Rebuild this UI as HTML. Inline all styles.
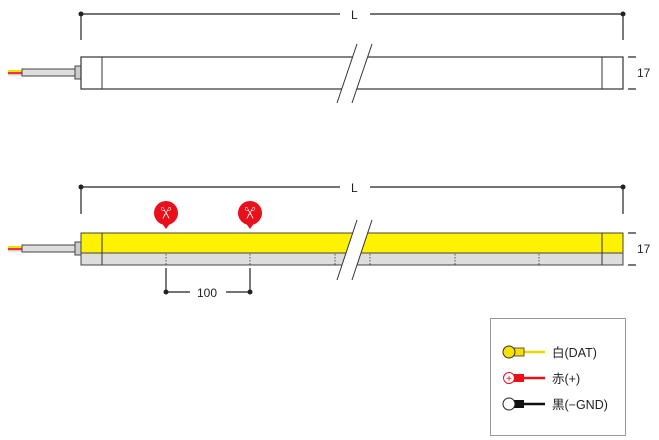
<!DOCTYPE html><html><head><style>body{margin:0;background:#fff}svg{display:block;font-family:"Liberation Sans","Noto Sans CJK JP",sans-serif}</style></head><body>
<svg width="659" height="440" viewBox="0 0 659 440">
<g stroke="#222" stroke-width="1.2" fill="none">
<line x1="81" y1="14" x2="340" y2="14"/><line x1="370" y1="14" x2="623" y2="14"/>
<line x1="81" y1="14" x2="81" y2="40"/><line x1="623" y1="14" x2="623" y2="40"/>
<line x1="81" y1="187" x2="340" y2="187"/><line x1="370" y1="187" x2="623" y2="187"/>
<line x1="81" y1="187" x2="81" y2="214"/><line x1="623" y1="187" x2="623" y2="214"/>
<line x1="628" y1="57" x2="636" y2="57"/><line x1="628" y1="89" x2="636" y2="89"/>
<line x1="628" y1="233" x2="636" y2="233"/><line x1="628" y1="265" x2="636" y2="265"/>
<line x1="166" y1="268" x2="166" y2="292"/><line x1="250" y1="268" x2="250" y2="292"/>
<line x1="166" y1="292" x2="190" y2="292"/><line x1="226" y1="292" x2="250" y2="292"/>
</g>
<g fill="#222"><circle cx="81" cy="14" r="2.5"/><circle cx="623" cy="14" r="2.5"/><circle cx="81" cy="187" r="2.5"/><circle cx="623" cy="187" r="2.5"/><circle cx="166" cy="292" r="2.5"/><circle cx="250" cy="292" r="2.5"/></g>
<g font-size="12" fill="#222"><text x="351" y="19">L</text><text x="351" y="192">L</text><text x="637" y="77">17</text><text x="637" y="253">17</text><text x="197" y="297">100</text></g>
<g>
<rect x="8" y="70" width="14" height="2" fill="#f5e000"/><rect x="8" y="72" width="14" height="2" fill="#e33"/><rect x="8" y="74" width="14" height="1.5" fill="#ccc"/>
<rect x="22" y="69" width="53" height="7" fill="#ddd" stroke="#444"/>
<rect x="75" y="66" width="6" height="13" fill="#ccc" stroke="#444"/>
<rect x="81" y="57" width="542" height="32" fill="#fff" stroke="#333" stroke-width="1.2"/>
<line x1="102" y1="57" x2="102" y2="89" stroke="#333"/><line x1="602" y1="57" x2="602" y2="89" stroke="#333"/>
<polygon points="357,44 372,44 352,103 337,103" fill="#fff"/>
<line x1="357" y1="44" x2="337" y2="103" stroke="#333"/><line x1="372" y1="44" x2="352" y2="103" stroke="#333"/>
</g>
<g>
<rect x="8" y="246" width="14" height="2" fill="#f5e000"/><rect x="8" y="248" width="14" height="2" fill="#e33"/><rect x="8" y="250" width="14" height="1.5" fill="#ccc"/>
<rect x="22" y="245" width="53" height="7" fill="#ddd" stroke="#444"/>
<rect x="75" y="242" width="6" height="13" fill="#ccc" stroke="#444"/>
<rect x="81" y="233" width="542" height="20" fill="#fff200" stroke="#444"/>
<rect x="81" y="253" width="542" height="12" fill="#ddd" stroke="#444"/>
<line x1="102" y1="233" x2="102" y2="265" stroke="#333"/><line x1="602" y1="233" x2="602" y2="265" stroke="#333"/>
<g stroke="#555" stroke-dasharray="1.5,1.5"><line x1="166" y1="254" x2="166" y2="265"/><line x1="250" y1="254" x2="250" y2="265"/><line x1="335" y1="254" x2="335" y2="265"/><line x1="370" y1="254" x2="370" y2="265"/><line x1="455" y1="254" x2="455" y2="265"/><line x1="539" y1="254" x2="539" y2="265"/></g>
<polygon points="357,220 372,220 352,280 337,280" fill="#fff"/>
<line x1="357" y1="220" x2="337" y2="280" stroke="#333"/><line x1="372" y1="220" x2="352" y2="280" stroke="#333"/>
</g>
<g>
<circle cx="166" cy="213" r="12" fill="#e8101a"/><polygon points="161,222 171,222 166,229" fill="#e8101a"/>
<text x="0" y="0" font-size="13" fill="#fff" text-anchor="middle" transform="translate(166,213) rotate(90) translate(0,5)">✂</text>
<circle cx="250" cy="213" r="12" fill="#e8101a"/><polygon points="245,222 255,222 250,229" fill="#e8101a"/>
<text x="0" y="0" font-size="13" fill="#fff" text-anchor="middle" transform="translate(250,213) rotate(90) translate(0,5)">✂</text>
</g>
<rect x="490.5" y="318.5" width="135" height="117" fill="#fff" stroke="#999"/>
<g>
<line x1="520" y1="352" x2="545" y2="352" stroke="#f0d800" stroke-width="2.5"/><rect x="514" y="348" width="10" height="8" fill="#f5e000" stroke="#333" stroke-width=".8"/><circle cx="509" cy="352" r="6" fill="#f5e000" stroke="#333"/>
<line x1="520" y1="378" x2="545" y2="378" stroke="#e8101a" stroke-width="2.5"/><rect x="514" y="374" width="10" height="8" fill="#e8101a"/><circle cx="509" cy="378" r="5.5" fill="#fff" stroke="#e8101a"/><text x="509" y="382" font-size="10" fill="#e8101a" text-anchor="middle">+</text>
<line x1="520" y1="404" x2="545" y2="404" stroke="#111" stroke-width="2.5"/><rect x="514" y="400" width="10" height="8" fill="#111"/><circle cx="509" cy="404" r="6" fill="#fff" stroke="#222"/>
</g>
<g font-size="12.5" fill="#222"><text x="552" y="357">白(DAT)</text><text x="552" y="383">赤(+)</text><text x="552" y="409">黒(−GND)</text></g>
</svg></body></html>
